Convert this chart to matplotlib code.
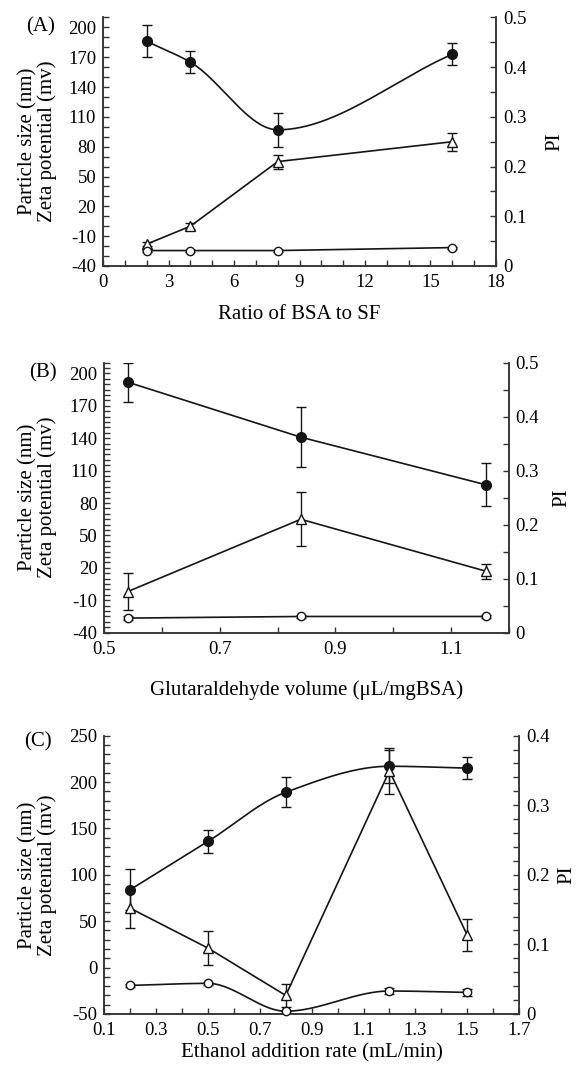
import numpy as np
import matplotlib
matplotlib.use('Agg')
import matplotlib.pyplot as plt
from matplotlib.ticker import FixedLocator, FuncFormatter

plt.rcParams['font.family'] = ['Liberation Serif', 'DejaVu Serif']

# (A) ratio of BSA to SF
a_x = [2, 4, 8, 16]
a_size = [186, 165, 97, 173]
a_size_err = [16, 11, 17, 11]
a_zeta = [-18, 0, 65, 85]
a_zeta_err = [2, 3, 7, 9]
a_pi = [0.031, 0.031, 0.031, 0.037]
a_pi_err = [0.002, 0.002, 0.002, 0.002]

# (B) glutaraldehyde volume
b_x = [0.54, 0.84, 1.16]
b_size = [192, 141, 97]
b_size_err = [18, 28, 20]
b_zeta = [-2, 65, 17]
b_zeta_err = [17, 25, 7]
b_pi = [0.027, 0.030, 0.030]
b_pi_err = [0.003, 0.003, 0.003]

# (C) ethanol addition rate
c_x = [0.2, 0.5, 0.8, 1.2, 1.5]
c_size = [84, 136, 189, 217, 215]
c_size_err = [22, 12, 16, 18, 12]
c_zeta = [64, 21, -30, 212, 35]
c_zeta_err = [21, 18, 12, 25, 17]
c_pi = [0.041, 0.044, 0.004, 0.033, 0.031]
c_pi_err = [0.002, 0.002, 0.0, 0.005, 0.005]

INK = '#151515'
TICK_FS = 13.5
LABEL_FS = 15


def pchip(x, y, n=300):
    # monotone cubic through the points, used only to draw the smoothed line
    x = np.asarray(x, float)
    y = np.asarray(y, float)
    h = np.diff(x)
    d = np.diff(y) / h
    m = np.zeros_like(y)
    m[0], m[-1] = d[0], d[-1]
    for k in range(1, len(x) - 1):
        if d[k - 1] * d[k] > 0:
            w1 = 2 * h[k] + h[k - 1]
            w2 = h[k] + 2 * h[k - 1]
            m[k] = (w1 + w2) / (w1 / d[k - 1] + w2 / d[k])
    xs = np.linspace(x[0], x[-1], n)
    i = np.clip(np.searchsorted(x, xs) - 1, 0, len(x) - 2)
    t = (xs - x[i]) / h[i]
    h00 = 2 * t**3 - 3 * t**2 + 1
    h10 = t**3 - 2 * t**2 + t
    h01 = -2 * t**3 + 3 * t**2
    h11 = t**3 - t**2
    ys = h00 * y[i] + h10 * h[i] * m[i] + h01 * y[i + 1] + h11 * h[i] * m[i + 1]
    return xs, ys


def series(ax, x, y, err, marker, face, ms, smooth):
    if smooth:
        xs, ys = pchip(x, y)
    else:
        xs, ys = x, y
    ax.plot(xs, ys, color=INK, lw=1.2, zorder=2)
    ax.errorbar(x, y, yerr=err, fmt='none', ecolor=INK, elinewidth=1.0,
                capsize=3.8, capthick=1.0, zorder=3)
    ax.plot(x, y, ls='none', marker=marker, ms=ms, mfc=face, mec=INK,
            mew=1.0, zorder=4, clip_on=False)


def style(ax, ax2, xticks, xminor, xfmt, yticks, yminor, pticks, pminor,
          ylab_x, pi_x):
    for a in (ax, ax2):
        a.spines['top'].set_visible(False)
        for s in a.spines.values():
            s.set_color('#333333')
            s.set_linewidth(1.1)
    ax.xaxis.set_major_locator(FixedLocator(xticks))
    ax.xaxis.set_minor_locator(FixedLocator(xminor))
    ax.xaxis.set_major_formatter(FuncFormatter(lambda v, p: xfmt.format(v)))
    ax.yaxis.set_major_locator(FixedLocator(yticks))
    ax.yaxis.set_minor_locator(FixedLocator(yminor))
    ax.yaxis.set_major_formatter(FuncFormatter(lambda v, p: '%d' % round(v)))
    ax2.yaxis.set_major_locator(FixedLocator(pticks))
    ax2.yaxis.set_minor_locator(FixedLocator(pminor))
    ax2.yaxis.set_major_formatter(
        FuncFormatter(lambda v, p: '0' if abs(v) < 1e-9 else '%g' % round(v, 3)))
    ax.tick_params(axis='both', which='both', direction='in', length=4.5,
                   width=1.0, color='#333333', labelsize=TICK_FS)
    ax.tick_params(axis='y', which='both', left=True, right=False, pad=5)
    ax.tick_params(axis='x', which='both', top=False, pad=6)
    ax2.tick_params(axis='y', which='both', direction='in', length=4.5,
                    width=1.0, color='#333333', labelsize=TICK_FS, pad=5)
    ax.set_ylabel('Particle size (nm)\nZeta potential (mv)', fontsize=LABEL_FS,
                  linespacing=1.0)
    ax.yaxis.set_label_coords(ylab_x, 0.5)
    ax2.set_ylabel('PI', fontsize=LABEL_FS)
    ax2.yaxis.set_label_coords(pi_x, 0.5)


fig = plt.figure(figsize=(5.76, 10.66), dpi=100)

# ---- panel A
ax = fig.add_axes([0.179, 0.7505, 0.682, 0.2331])
ax2 = ax.twinx()
ax.set_xlim(0, 18)
ax.set_ylim(-40, 210)
ax2.set_ylim(0, 0.5)
series(ax, a_x, a_size, a_size_err, 'o', INK, 7, True)
series(ax, a_x, a_zeta, a_zeta_err, '^', 'white', 7.5, False)
series(ax2, a_x, a_pi, a_pi_err, 'o', 'white', 6, False)
style(ax, ax2, np.arange(0, 19, 3), np.arange(0, 19, 1), '{:g}',
      np.arange(-40, 201, 30), np.arange(-40, 211, 10),
      np.arange(0, 0.51, 0.1), np.arange(0, 0.51, 0.05), -0.117, 1.125)
ax.set_xlabel('Ratio of BSA to SF', fontsize=LABEL_FS, labelpad=10)
fig.text(0.045, 1 - 27 / 1066, '(A)', fontsize=LABEL_FS, va='center', ha='left')

# ---- panel B
ax = fig.add_axes([0.1814, 0.4065, 0.7017, 0.2533])
ax2 = ax.twinx()
ax.set_xlim(0.5, 1.2)
ax.set_ylim(-40, 210)
ax2.set_ylim(0, 0.5)
series(ax, b_x, b_size, b_size_err, 'o', INK, 7, False)
series(ax, b_x, b_zeta, b_zeta_err, '^', 'white', 7.5, False)
series(ax2, b_x, b_pi, b_pi_err, 'o', 'white', 6, False)
style(ax, ax2, [0.5, 0.7, 0.9, 1.1], np.arange(0.5, 1.21, 0.1), '{:.1f}',
      np.arange(-40, 201, 30), np.arange(-40, 211, 5),
      np.arange(0, 0.51, 0.1), np.arange(0, 0.51, 0.05), -0.118, 1.108)
ax.set_xlim(0.5, 1.2)
ax.set_xlabel('Glutaraldehyde volume (\u03bcL/mgBSA)', fontsize=LABEL_FS,
              labelpad=16)
fig.text(0.05, 1 - 373 / 1066, '(B)', fontsize=LABEL_FS, va='center', ha='left')

# ---- panel C
ax = fig.add_axes([0.1811, 0.0488, 0.72, 0.2611])
ax2 = ax.twinx()
ax.set_xlim(0.1, 1.7)
ax.set_ylim(-50, 250)
ax2.set_ylim(0, 0.4)
series(ax, c_x, c_size, c_size_err, 'o', INK, 7, True)
series(ax, c_x, c_zeta, c_zeta_err, '^', 'white', 7.5, False)
series(ax2, c_x, c_pi, c_pi_err, 'o', 'white', 6, True)
style(ax, ax2, np.arange(0.1, 1.71, 0.2), np.arange(0.1, 1.71, 0.1), '{:.1f}',
      np.arange(-50, 251, 50), np.arange(-50, 251, 10),
      np.arange(0, 0.41, 0.1), np.arange(0, 0.41, 0.02), -0.114, 1.093)
ax.set_xlim(0.1, 1.7)
ax.set_xlabel('Ethanol addition rate (mL/min)', fontsize=LABEL_FS, labelpad=3)
fig.text(0.042, 1 - 742 / 1066, '(C)', fontsize=LABEL_FS, va='center', ha='left')

fig.savefig('out.png', dpi=100)
